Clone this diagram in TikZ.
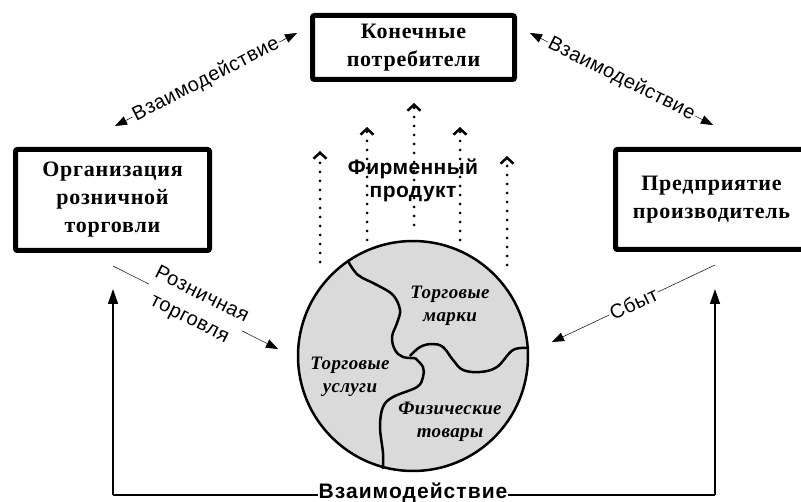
\documentclass[tikz,border=0pt]{standalone}
\usepackage{fontspec}
\setmainfont{Liberation Serif}
\setsansfont{Liberation Sans}
\newfontfamily\boxfont{Liberation Serif}[LetterSpace=3.5]
\newfontfamily\lblfont{Liberation Sans}[LetterSpace=2.5]
\newfontfamily\prodfont{Liberation Sans}[LetterSpace=2]
\newfontfamily\botfont{Liberation Sans}[LetterSpace=5]
\newfontfamily\itfont{Liberation Serif}[LetterSpace=2]
\usetikzlibrary{arrows.meta}
\definecolor{circfill}{RGB}{218,218,218}
\tikzset{
  box/.style={draw, line width=5pt, rounded corners=2pt, align=center, inner sep=0pt,
    font=\boxfont\bfseries\fontsize{22}{28}\selectfont},
  thinarrow/.style={line width=0.5pt, -{Triangle[length=12pt,width=9pt]}},
  twoarrow/.style={line width=0.5pt, {Triangle[length=12pt,width=9pt]}-{Triangle[length=12pt,width=9pt]}},
  lbl/.style={fill=white, inner sep=1pt, sloped, font=\lblfont\fontsize{20}{27}\selectfont, align=center},
  dotarrow/.style={line width=3pt, line cap=round, dash pattern=on 0pt off 9pt,
    -{Straight Barb[length=6pt,width=13pt,line width=2.5pt]}},
  curve/.style={line width=2.5pt, line join=round},
  itxt/.style={font=\itfont\bfseries\itshape\fontsize{19}{23}\selectfont, align=center},
  bigarrow/.style={line width=1.5pt, -{Triangle[length=15pt,width=10pt]}}
}
\begin{document}
\begin{tikzpicture}[x=1pt,y=-1pt]
\useasboundingbox (0,0) rectangle (801,502);
% dotted product arrows
\coordinate (d1s) at (320,262); \coordinate (d1e) at (320,151);
\coordinate (d2s) at (367,240); \coordinate (d2e) at (367,127);
\coordinate (d3s) at (414,225); \coordinate (d3e) at (414,103);
\coordinate (d4s) at (460,240); \coordinate (d4e) at (460,127);
\coordinate (d5s) at (507,265); \coordinate (d5e) at (507,156);
\foreach \i in {1,...,5} { \draw[dotarrow] (d\i s) -- (d\i e); }
% boxes
\node[box, minimum width=202pt, minimum height=64pt] (cons) at (413.5,47.5) {Конечные\\потребители};
\node[box, minimum width=194pt, minimum height=101pt] (retail) at (112.5,200) {Организация\\розничной\\торговли};
\node[box, minimum width=192pt, minimum height=100pt] (prod) at (711.5,199.5) {Предприятие\\производитель};
% globe
\node[circle, draw, line width=2.5pt, fill=circfill, minimum size=230pt, inner sep=0pt] (globe) at (413,356) {};
\draw[curve] plot[smooth, tension=0.6] coordinates {(348,261) (358,275) (377,285) (393,295) (400,310) (397,323) (392,337) (395,350) (403,357) (415,358)};
\draw[curve] plot[smooth, tension=0.6] coordinates {(415,358) (423,367) (423,377) (417,387) (393,397) (383,407) (380,427) (383,453) (383,469)};
\draw[curve] plot[smooth, tension=0.6] coordinates {(410,356) (420,347) (432,344) (443,347) (453,360) (463,370) (480,372) (497,367) (513,350) (529,348)};
\node[itxt] (tm) at (450,306) {Торговые\\марки};
\node[itxt] (tu) at (350,377) {Торговые\\услуги};
\node[itxt] (ft) at (450,422) {Физические\\товары};
% product label
\node[font=\prodfont\bfseries\fontsize{21}{23}\selectfont, align=center] (fp) at (413,180) {Фирменный\\продукт};
% top interactions
\coordinate (a1) at (115,126); \coordinate (b1) at (297,33);
\coordinate (a2) at (530,33); \coordinate (b2) at (713,125);
\draw[twoarrow] (a1) -- node[lbl] {Взаимодействие} (b1);
\draw[twoarrow] (a2) -- node[lbl] {Взаимодействие} (b2);
% retail and sales
\coordinate (r1) at (113,266); \coordinate (r2) at (278,349);
\draw[thinarrow] (r1) -- node[lbl] {Розничная\\торговля} (r2);
\coordinate (s1) at (715,265); \coordinate (s2) at (552,342);
\draw[thinarrow] (s1) -- node[lbl] {Сбыт} (s2);
% bottom interaction
\coordinate (bl) at (113,495); \coordinate (br) at (715,495);
\coordinate (lt) at (113,289); \coordinate (rt) at (715,289);
\coordinate (bm) at (413,499);
\draw[bigarrow] (bl) -- (lt);
\draw[bigarrow] (br) -- (rt);
\draw[line width=1.5pt] (bl) -- (br);
\node[fill=white, inner sep=1pt, anchor=base, font=\botfont\bfseries\fontsize{21}{23}\selectfont] (bi) at (bm) {Взаимодействие};
\end{tikzpicture}
\end{document}
